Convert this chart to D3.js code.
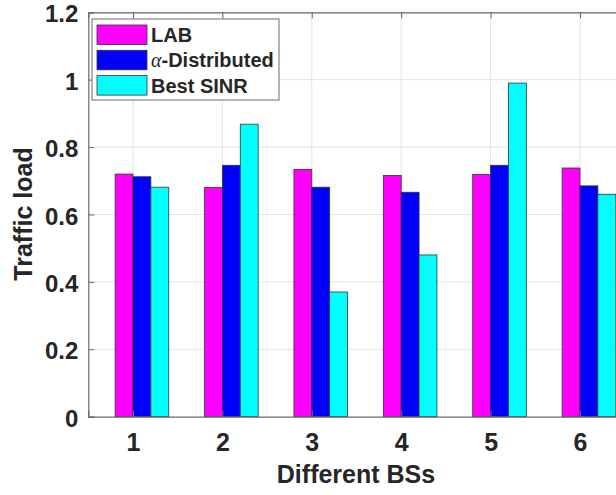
<!DOCTYPE html>
<html>
<head>
<meta charset="utf-8">
<script src="https://cdn.jsdelivr.net/npm/d3@7"></script>
<style>
  body { margin: 0; background: #fff; }
  text { font-family: "Liberation Sans", Arial, sans-serif; font-weight: bold; fill: #262626; }
</style>
</head>
<body>
<svg id="chart" width="616" height="495"></svg>
<script>
var categories = [1, 2, 3, 4, 5, 6];
var labValues = [0.72, 0.68, 0.734, 0.716, 0.719, 0.738];
var alphaValues = [0.712, 0.746, 0.681, 0.666, 0.746, 0.685];
var sinrValues = [0.681, 0.868, 0.37, 0.48, 0.99, 0.66];
var yTicks = [0, 0.2, 0.4, 0.6, 0.8, 1, 1.2];
var seriesNames = ["LAB", "-Distributed", "Best SINR"];
var seriesColors = ["#ff00ff", "#0000ff", "#00ffff"];

var series = [labValues, alphaValues, sinrValues];

var svg = d3.select('#chart');
var plotLeft = 88.3, plotRight = 624.7, plotTop = 12.3, plotBottom = 416.7;

var x = d3.scaleLinear().domain([0.5, 6.5]).range([plotLeft, plotRight]);
var y = d3.scaleLinear().domain([0, 1.2]).range([plotBottom, plotTop]);
var barW = 0.2;

// grid
svg.append('g').selectAll('line')
   .data(yTicks.slice(1))
   .enter().append('line')
   .attr('x1', plotLeft).attr('x2', plotRight)
   .attr('y1', function(d) { return y(d); })
   .attr('y2', function(d) { return y(d); })
   .style('stroke', '#e3e3e3').style('stroke-width', 1);

svg.append('g').selectAll('line')
   .data(categories)
   .enter().append('line')
   .attr('x1', function(d) { return x(d); })
   .attr('x2', function(d) { return x(d); })
   .attr('y1', plotTop).attr('y2', plotBottom)
   .style('stroke', '#e3e3e3').style('stroke-width', 1);

// bars
series.forEach(function(vals, s) {
   svg.append('g').selectAll('rect')
      .data(vals)
      .enter().append('rect')
      .attr('x', function(d, i) { return x(categories[i] + (s - 1) * barW); })
      .attr('width', x(barW) - x(0))
      .attr('y', function(d) { return y(d); })
      .attr('height', function(d) { return y(0) - y(d); })
      .style('fill', seriesColors[s])
      .style('stroke', '#333')
      .style('stroke-width', 0.8);
});

// axes
var yAxis = d3.axisLeft(y).tickValues(yTicks).tickSize(-6).tickPadding(10)
   .tickFormat(function(d) { return d3.format('')(d); });
var gy = svg.append('g').attr('transform', 'translate(' + plotLeft + ',0)').call(yAxis);
gy.selectAll('text').style('font-size', '24px').attr('dy', '0.4em');

var xAxis = d3.axisBottom(x).tickValues(categories).tickSize(-6).tickPadding(17)
   .tickFormat(d3.format('d'));
var gx = svg.append('g').attr('transform', 'translate(0,' + plotBottom + ')').call(xAxis);
gx.selectAll('text').style('font-size', '25px');

var xTop = d3.axisTop(x).tickValues(categories).tickSize(-6).tickFormat('');
svg.append('g').attr('transform', 'translate(0,' + plotTop + ')').call(xTop);

svg.selectAll('.domain').style('stroke', '#6b6b6b').style('stroke-width', 1.2);
svg.selectAll('.tick line').style('stroke', '#6b6b6b');

// axis labels
svg.append('text')
   .attr('x', 356).attr('y', 483)
   .attr('text-anchor', 'middle')
   .style('font-size', '25px')
   .text('Different BSs');

svg.append('text')
   .attr('transform', 'translate(32,' + 214 + ') rotate(-90)')
   .attr('text-anchor', 'middle')
   .style('font-size', '25px')
   .text('Traffic load');

// legend
var legend = svg.append('g').attr('transform', 'translate(92,19)');
legend.append('rect')
   .attr('width', 187).attr('height', 81)
   .style('fill', '#fff').style('stroke', '#6b6b6b').style('stroke-width', 1);

seriesNames.forEach(function(name, i) {
   var row = legend.append('g').attr('transform', 'translate(0,' + (6 + i * 25.3) + ')');
   row.append('rect')
      .attr('x', 5).attr('y', 0).attr('width', 50).attr('height', 19.5)
      .style('fill', seriesColors[i]).style('stroke', '#333').style('stroke-width', 0.8);
   var t = row.append('text').attr('x', 59).attr('y', 17).style('font-size', '20px');
   if (i == 1) {
      t.append('tspan')
       .style('font-family', '"Liberation Serif", "Times New Roman", serif')
       .style('font-style', 'italic').style('font-weight', 'normal')
       .text('\u03b1');
   }
   t.append('tspan').text(name);
});
</script>
</body>
</html>
